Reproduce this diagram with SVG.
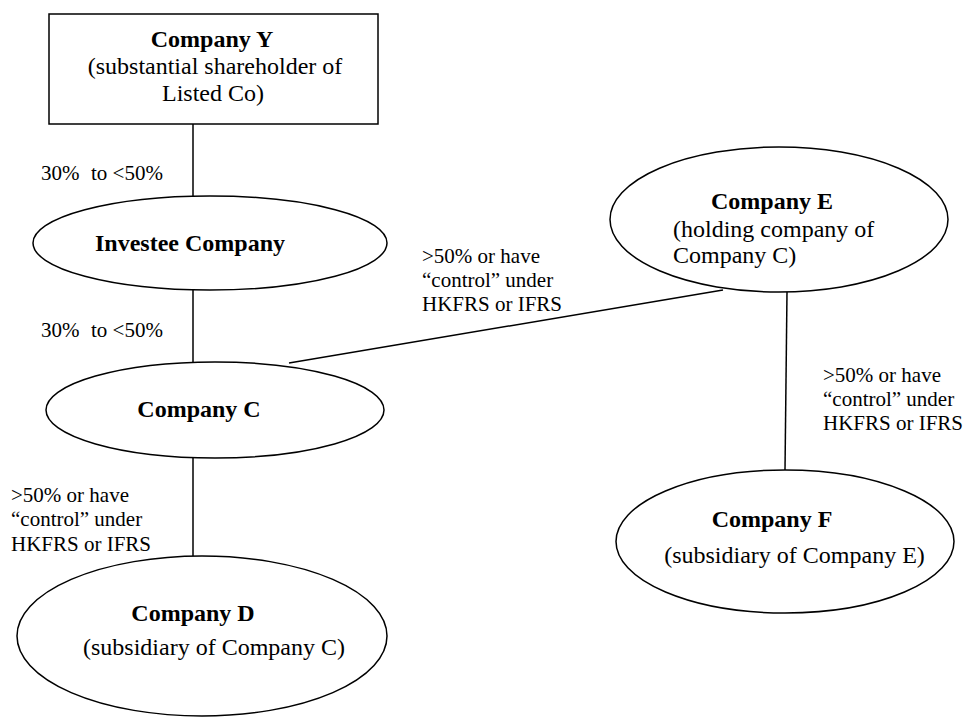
<svg xmlns="http://www.w3.org/2000/svg" width="965" height="718" viewBox="0 0 965 718">
<style>
  .shape { fill: #ffffff; stroke: #000000; stroke-width: 1.5; }
  .conn { stroke: #000000; stroke-width: 1.5; fill: none; }
  .title { font-family: "Liberation Serif", "Times New Roman", serif; font-size: 24px; font-weight: bold; fill: #000; }
  .sub { font-family: "Liberation Serif", "Times New Roman", serif; font-size: 24px; fill: #000; }
  .lbl { font-family: "Liberation Serif", "Times New Roman", serif; font-size: 21px; fill: #000; }
</style>
<rect width="965" height="718" fill="#ffffff"/>
<g id="connectors">
  <line class="conn" x1="193" y1="124" x2="193" y2="196"/>
  <line class="conn" x1="193" y1="290" x2="193" y2="362"/>
  <line class="conn" x1="193" y1="458" x2="193" y2="556"/>
  <line class="conn" x1="289" y1="363" x2="723" y2="290"/>
  <line class="conn" x1="787" y1="292" x2="785" y2="470"/>
</g>
<g id="labels">
  <text class="lbl" y="180"><tspan x="41">30%</tspan><tspan x="91">to &lt;50%</tspan></text>
  <text class="lbl" y="337"><tspan x="41">30%</tspan><tspan x="91">to &lt;50%</tspan></text>
  <text class="lbl"><tspan x="11" y="502">&gt;50% or have</tspan><tspan x="11" y="526">“control” under</tspan><tspan x="11" y="551">HKFRS or IFRS</tspan></text>
  <text class="lbl"><tspan x="422" y="263">&gt;50% or have</tspan><tspan x="422" y="287">“control” under</tspan><tspan x="422" y="311">HKFRS or IFRS</tspan></text>
  <text class="lbl"><tspan x="823" y="382">&gt;50% or have</tspan><tspan x="823" y="406">“control” under</tspan><tspan x="823" y="430">HKFRS or IFRS</tspan></text>
</g>
<g id="companyY">
  <rect class="shape" x="49" y="14" width="329" height="110"/>
  <text class="title" x="212" y="47" text-anchor="middle">Company Y</text>
  <text class="sub" x="215" y="74" text-anchor="middle">(substantial shareholder of</text>
  <text class="sub" x="213" y="101" text-anchor="middle">Listed Co)</text>
</g>
<g id="investee">
  <ellipse class="shape" cx="210" cy="243" rx="177" ry="47"/>
  <text class="title" x="190" y="251" text-anchor="middle">Investee Company</text>
</g>
<g id="companyC">
  <ellipse class="shape" cx="215" cy="410" rx="169" ry="48"/>
  <text class="title" x="199" y="417" text-anchor="middle">Company C</text>
</g>
<g id="companyD">
  <ellipse class="shape" cx="202" cy="636" rx="185" ry="80"/>
  <text class="title" x="193" y="621" text-anchor="middle">Company D</text>
  <text class="sub" x="214" y="655" text-anchor="middle">(subsidiary of Company C)</text>
</g>
<g id="companyE">
  <ellipse class="shape" cx="779" cy="219.5" rx="169" ry="72.5"/>
  <text class="title" x="772" y="209" text-anchor="middle">Company E</text>
  <text class="sub" x="673" y="237">(holding company of</text>
  <text class="sub" x="673" y="263">Company C)</text>
</g>
<g id="companyF">
  <ellipse class="shape" cx="785" cy="541.5" rx="169" ry="71.5"/>
  <text class="title" x="772" y="527" text-anchor="middle">Company F</text>
  <text class="sub" x="794.5" y="563" text-anchor="middle">(subsidiary of Company E)</text>
</g>
</svg>
